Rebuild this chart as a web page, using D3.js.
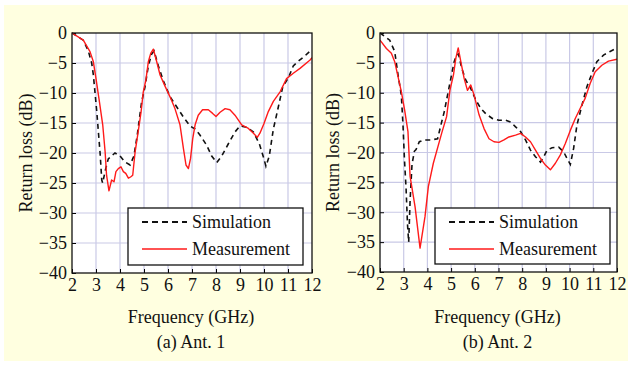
<!DOCTYPE html>
<html>
<head>
<meta charset="utf-8">
<script src="https://cdn.jsdelivr.net/npm/d3@7"></script>
<style>
  html, body { margin: 0; padding: 0; background: #fff; }
  svg text { font-family: "Times New Roman", "Liberation Serif", "DejaVu Serif", Times, serif; fill: #111; }
</style>
</head>
<body>
<div id="chart"></div>
<script>
// tick values
const xTicks = [2, 3, 4, 5, 6, 7, 8, 9, 10, 11, 12];
const yTicks = [0, -5, -10, -15, -20, -25, -30, -35, -40];
const legendLabels = ["Simulation", "Measurement"];

// (a) Ant. 1
const ant1SimFreq = [2, 2.47, 2.68, 2.82, 2.89, 2.96, 3.03, 3.1, 3.17, 3.24, 3.28, 3.38, 3.51, 3.79, 4.0, 4.21, 4.42, 4.58, 4.72, 4.9, 5.04, 5.18, 5.32, 5.42, 5.6, 5.81, 6.08, 6.36, 6.64, 6.92, 7.13, 7.33, 7.61, 7.82, 8.03, 8.24, 8.51, 8.79, 9.0, 9.28, 9.56, 9.81, 10.0, 10.08, 10.22, 10.39, 10.56, 10.78, 11.01, 11.22, 11.43, 11.71, 12];
const ant1SimDb = [0, -1.2, -3, -5, -7, -10, -13, -16.5, -20, -24.5, -25, -23, -21, -20, -20.5, -21.5, -22, -20.5, -17, -11.5, -9, -5.5, -3.5, -3, -5.5, -8, -10.6, -12.3, -14, -15.5, -16, -17, -18.7, -20.5, -21.6, -20.5, -18.5, -16.5, -15.5, -15.7, -16.5, -18.5, -21, -22.2, -20.5, -16, -13, -9, -7.5, -5.5, -4.7, -3.8, -2.7];
const ant1MeasFreq = [2, 2.47, 2.75, 2.89, 3.0, 3.14, 3.28, 3.38, 3.44, 3.54, 3.65, 3.75, 3.83, 3.93, 4.04, 4.14, 4.24, 4.35, 4.44, 4.53, 4.63, 4.76, 4.88, 4.97, 5.08, 5.18, 5.28, 5.39, 5.53, 5.67, 5.88, 6.08, 6.29, 6.5, 6.64, 6.75, 6.85, 6.94, 7.03, 7.13, 7.26, 7.44, 7.68, 7.86, 8.0, 8.17, 8.38, 8.58, 8.79, 9.07, 9.35, 9.56, 9.72, 9.83, 10.0, 10.18, 10.39, 10.67, 10.94, 11.22, 11.5, 11.92, 12];
const ant1MeasDb = [0, -1.2, -3.1, -4.8, -7.6, -11.4, -15.3, -19.8, -23.7, -26.3, -24.5, -24.8, -23.1, -22.6, -22.3, -23.1, -23.4, -24.2, -24, -23.7, -19.8, -16.4, -13.1, -9.8, -7.8, -4.8, -3.4, -2.7, -4.8, -7, -8.9, -10.6, -12.6, -15.3, -19.2, -22, -22.6, -20.9, -17.6, -15.3, -13.7, -12.8, -12.8, -13.4, -13.9, -13.2, -12.6, -12.8, -13.7, -15.3, -15.9, -16.7, -17.4, -16.7, -15.1, -13.1, -11.4, -9.8, -7.6, -6.7, -5.9, -4.5, -4.1];

// (b) Ant. 2
const ant2SimFreq = [2, 2.41, 2.62, 2.76, 2.9, 2.97, 3.03, 3.1, 3.16, 3.21, 3.27, 3.35, 3.45, 3.52, 3.66, 3.87, 4.15, 4.43, 4.57, 4.71, 4.85, 4.99, 5.13, 5.23, 5.31, 5.45, 5.62, 5.83, 6.04, 6.25, 6.46, 6.74, 7.02, 7.3, 7.51, 7.72, 7.93, 8.14, 8.35, 8.56, 8.77, 8.91, 9.05, 9.26, 9.54, 9.75, 9.89, 10.03, 10.17, 10.31, 10.52, 10.73, 10.94, 11.15, 11.43, 11.71, 12];
const ant2SimDb = [0, -1.2, -3.1, -7, -10.4, -15.4, -21, -26, -32, -35, -28, -22, -19.8, -19.5, -18.2, -17.9, -17.9, -17.7, -15.4, -13.2, -10.4, -7.6, -4.8, -3.7, -3.5, -5.9, -7.9, -9.3, -11.2, -12.6, -13.5, -14.3, -14.6, -14.6, -14.9, -15.7, -16.5, -17.9, -19.6, -20.7, -21.6, -20.7, -19.6, -19.2, -19.1, -19.9, -21, -22, -19.3, -15.4, -12.1, -9, -6.8, -4.8, -3.7, -3.1, -2.5];
const ant2MeasFreq = [2, 2.27, 2.48, 2.62, 2.76, 2.9, 3.04, 3.18, 3.27, 3.48, 3.69, 3.9, 4.04, 4.25, 4.6, 4.81, 4.95, 5.1, 5.2, 5.3, 5.41, 5.55, 5.69, 5.83, 5.97, 6.18, 6.39, 6.6, 6.81, 7.02, 7.23, 7.44, 7.72, 7.93, 8.14, 8.35, 8.56, 8.77, 8.98, 9.19, 9.4, 9.61, 9.82, 10.03, 10.24, 10.45, 10.66, 10.87, 11.08, 11.36, 11.64, 12];
const ant2MeasDb = [-1.2, -2.6, -3.4, -4.8, -7.3, -9.8, -12.9, -16.5, -24, -29.1, -36, -30.7, -25.7, -21.8, -16.8, -14, -9.6, -7, -4.2, -2.5, -4.8, -7.6, -9.6, -8.7, -10.4, -13.7, -16, -17.7, -18.2, -18.3, -17.9, -17.4, -17.1, -16.8, -17.4, -18.2, -19.6, -21, -22.1, -22.9, -21.8, -20.4, -18.5, -16.3, -14.3, -12.6, -10.9, -8.4, -6.5, -5.4, -4.7, -4.4];

const width = 633;
const height = 365;
const fontFamily = '"Times New Roman", "Liberation Serif", "DejaVu Serif", Times, serif';

const svg = d3
  .select("#chart")
  .append("svg")
  .attr("width", width)
  .attr("height", height)
  .style("font-family", fontFamily);

svg
  .append("rect")
  .attr("x", 4)
  .attr("y", 5)
  .attr("width", 624)
  .attr("height", 356)
  .attr("fill", "#ffffe0");

const panels = [
  {
    left: 72, right: 312, top: 33, bottom: 273, ylabelX: 26, caption: "(a) Ant. 1",
    sim: {f: ant1SimFreq, v: ant1SimDb}, meas: {f: ant1MeasFreq, v: ant1MeasDb},
    legend: {x: 128, y: 208, w: 175, h: 57}
  },
  {
    left: 380, right: 617, top: 33, bottom: 272, ylabelX: 333, caption: "(b) Ant. 2",
    sim: {f: ant2SimFreq, v: ant2SimDb}, meas: {f: ant2MeasFreq, v: ant2MeasDb},
    legend: {x: 435, y: 208, w: 175, h: 56}
  }
];

panels.forEach(p => {
  const x = d3.scaleLinear().domain([2, 12]).range([p.left, p.right]);
  const y = d3.scaleLinear().domain([-40, 0]).range([p.bottom, p.top]);
  const g = svg.append("g");

  g.append("rect")
    .attr("x", p.left)
    .attr("y", p.top)
    .attr("width", p.right - p.left)
    .attr("height", p.bottom - p.top)
    .attr("fill", "#fff");

  // grid
  g.append("g")
    .selectAll("line")
    .data(xTicks.slice(1, -1))
    .join("line")
    .attr("x1", d => x(d)).attr("x2", d => x(d))
    .attr("y1", p.top).attr("y2", p.bottom)
    .attr("stroke", "#c9c9e6").attr("stroke-width", 1.2);
  g.append("g")
    .selectAll("line")
    .data(yTicks.slice(1, -1))
    .join("line")
    .attr("y1", d => y(d)).attr("y2", d => y(d))
    .attr("x1", p.left).attr("x2", p.right)
    .attr("stroke", "#c9c9e6").attr("stroke-width", 1.2);

  // axes with inward ticks
  const xAxis = g.append("g")
    .attr("transform", `translate(0,${p.bottom})`)
    .call(d3.axisBottom(x).tickValues(xTicks).tickSizeInner(-4).tickSizeOuter(0).tickPadding(12));
  const yAxis = g.append("g")
    .attr("transform", `translate(${p.left},0)`)
    .call(d3.axisLeft(y).tickValues(yTicks).tickSizeInner(-4).tickSizeOuter(0)
      .tickPadding(5).tickFormat(d => d === 0 ? "0" : "\u2212" + Math.abs(d)));
  [xAxis, yAxis].forEach(a => {
    a.attr("font-family", null).attr("font-size", null);
    a.select(".domain").remove();
    a.selectAll("text").attr("font-size", 18);
  });
  xAxis.selectAll("text").attr("dy", "0.35em");

  const line = d3.line().x(d => x(d[0])).y(d => y(d[1]));

  const clipId = "clip" + p.left;
  g.append("clipPath").attr("id", clipId)
    .append("rect")
    .attr("x", p.left).attr("y", p.top - 1)
    .attr("width", p.right - p.left).attr("height", p.bottom - p.top + 2);

  g.append("path")
    .datum(d3.zip(p.sim.f, p.sim.v))
    .attr("clip-path", `url(#${clipId})`)
    .attr("fill", "none")
    .attr("stroke", "#111")
    .attr("stroke-width", 1.6)
    .attr("stroke-dasharray", "5,4")
    .attr("d", line);

  g.append("path")
    .datum(d3.zip(p.meas.f, p.meas.v))
    .attr("clip-path", `url(#${clipId})`)
    .attr("fill", "none")
    .attr("stroke", "#ff1a1a")
    .attr("stroke-width", 1.4)
    .attr("stroke-linejoin", "round")
    .attr("d", line);

  // frame
  g.append("rect")
    .attr("x", p.left)
    .attr("y", p.top)
    .attr("width", p.right - p.left)
    .attr("height", p.bottom - p.top)
    .attr("fill", "none")
    .attr("stroke", "#111")
    .attr("stroke-width", 1.3);

  // legend
  const lg = g.append("g").attr("transform", `translate(${p.legend.x},${p.legend.y})`);
  lg.append("rect")
    .attr("width", p.legend.w).attr("height", p.legend.h)
    .attr("fill", "#fff").attr("stroke", "#111").attr("stroke-width", 1.3);
  const styles = [
    {stroke: "#111", dash: "6,4", w: 1.8},
    {stroke: "#ff1a1a", dash: null, w: 1.5}
  ];
  legendLabels.forEach((name, i) => {
    const cy = 14 + i * 27;
    lg.append("line")
      .attr("x1", 14).attr("x2", 59)
      .attr("y1", cy).attr("y2", cy)
      .attr("stroke", styles[i].stroke)
      .attr("stroke-width", styles[i].w)
      .attr("stroke-dasharray", styles[i].dash);
    lg.append("text")
      .attr("x", 64).attr("y", cy)
      .attr("dy", "0.35em")
      .attr("font-size", 18)
      .text(name);
  });

  // labels
  g.append("text")
    .attr("transform", `translate(${p.ylabelX},${(p.top + p.bottom) / 2}) rotate(-90)`)
    .attr("text-anchor", "middle")
    .attr("dy", "0.35em")
    .attr("font-size", 18)
    .text("Return loss (dB)");
  g.append("text")
    .attr("x", (p.left + p.right) / 2 - 1)
    .attr("y", 323)
    .attr("text-anchor", "middle")
    .attr("font-size", 18)
    .text("Frequency (GHz)");
  g.append("text")
    .attr("x", (p.left + p.right) / 2 - 1)
    .attr("y", 348)
    .attr("text-anchor", "middle")
    .attr("font-size", 18)
    .text(p.caption);
});
</script>
</body>
</html>
